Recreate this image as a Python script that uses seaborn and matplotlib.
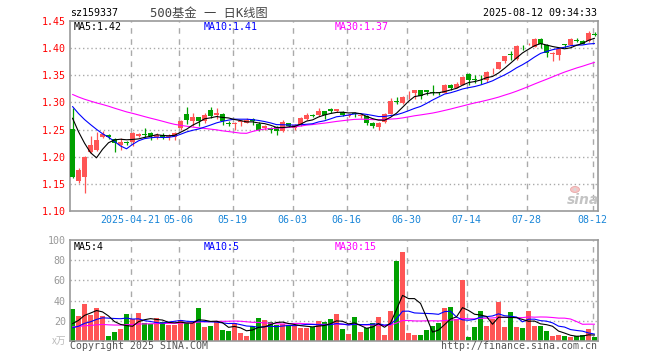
import numpy as np
import pandas as pd
import matplotlib
matplotlib.use("Agg")
import matplotlib.pyplot as plt
from matplotlib.patches import Ellipse
import seaborn as sns

sns.set_style("white")
plt.rcParams["font.family"] = ["DejaVu Sans Mono", "Noto Sans CJK SC"]

# ---------------- data ----------------
opens = [1.251, 1.155, 1.163, 1.209, 1.212, 1.237, 1.240, 1.232, 1.221, 1.226,
         1.228, 1.239, 1.242, 1.244, 1.236, 1.240, 1.236, 1.237, 1.253, 1.278,
         1.265, 1.273, 1.266, 1.286, 1.276, 1.279, 1.262, 1.261, 1.264, 1.263,
         1.269, 1.261, 1.252, 1.252, 1.254, 1.248, 1.262, 1.253, 1.259, 1.270,
         1.277, 1.276, 1.284, 1.287, 1.285, 1.283, 1.275, 1.281, 1.275, 1.275,
         1.262, 1.254, 1.264, 1.279, 1.303, 1.299, 1.317, 1.318, 1.322, 1.322,
         1.319, 1.319, 1.318, 1.333, 1.327, 1.333, 1.352, 1.343, 1.342, 1.342,
         1.357, 1.362, 1.376, 1.389, 1.380, 1.406, 1.407, 1.403, 1.417, 1.406,
         1.390, 1.388, 1.407, 1.405, 1.415, 1.414, 1.413, 1.426]
highs = [1.289, 1.179, 1.202, 1.239, 1.245, 1.248, 1.241, 1.234, 1.234, 1.229,
         1.246, 1.244, 1.253, 1.246, 1.244, 1.243, 1.241, 1.246, 1.268, 1.291,
         1.280, 1.274, 1.280, 1.292, 1.290, 1.281, 1.266, 1.264, 1.267, 1.271,
         1.271, 1.264, 1.258, 1.254, 1.256, 1.267, 1.263, 1.260, 1.273, 1.280,
         1.278, 1.290, 1.285, 1.289, 1.288, 1.284, 1.279, 1.282, 1.277, 1.277,
         1.264, 1.264, 1.280, 1.308, 1.310, 1.311, 1.321, 1.323, 1.323, 1.323,
         1.333, 1.320, 1.334, 1.334, 1.337, 1.348, 1.354, 1.350, 1.351, 1.357,
         1.363, 1.375, 1.386, 1.395, 1.405, 1.406, 1.409, 1.418, 1.418, 1.408,
         1.393, 1.399, 1.407, 1.418, 1.418, 1.415, 1.432, 1.429]
lows = [1.161, 1.151, 1.134, 1.207, 1.210, 1.234, 1.232, 1.209, 1.213, 1.222,
        1.219, 1.236, 1.236, 1.231, 1.233, 1.232, 1.230, 1.231, 1.249, 1.261,
        1.257, 1.257, 1.263, 1.272, 1.270, 1.258, 1.256, 1.250, 1.257, 1.262,
        1.259, 1.248, 1.249, 1.243, 1.240, 1.245, 1.255, 1.249, 1.257, 1.267,
        1.274, 1.275, 1.270, 1.280, 1.283, 1.275, 1.273, 1.273, 1.271, 1.258,
        1.253, 1.250, 1.263, 1.278, 1.297, 1.297, 1.306, 1.307, 1.307, 1.313,
        1.313, 1.313, 1.317, 1.322, 1.326, 1.332, 1.333, 1.335, 1.334, 1.338,
        1.353, 1.361, 1.372, 1.378, 1.379, 1.397, 1.405, 1.402, 1.401, 1.384,
        1.376, 1.378, 1.400, 1.404, 1.411, 1.407, 1.412, 1.423]
closes = [1.163, 1.175, 1.200, 1.222, 1.230, 1.241, 1.236, 1.226, 1.228, 1.225,
          1.244, 1.241, 1.240, 1.238, 1.240, 1.237, 1.238, 1.244, 1.266, 1.268,
          1.274, 1.265, 1.276, 1.275, 1.280, 1.266, 1.260, 1.262, 1.265, 1.268,
          1.266, 1.250, 1.256, 1.250, 1.248, 1.264, 1.257, 1.259, 1.271, 1.277,
          1.275, 1.284, 1.277, 1.285, 1.287, 1.277, 1.277, 1.279, 1.276, 1.263,
          1.256, 1.263, 1.278, 1.303, 1.301, 1.310, 1.318, 1.322, 1.312, 1.319,
          1.318, 1.318, 1.333, 1.327, 1.334, 1.347, 1.342, 1.342, 1.341, 1.356,
          1.358, 1.374, 1.385, 1.388, 1.404, 1.405, 1.408, 1.417, 1.408, 1.391,
          1.391, 1.398, 1.406, 1.417, 1.414, 1.408, 1.427, 1.425]
volumes = [31.5, 24.8, 36.5, 25.5, 32.5, 24.8, 4.7, 8.6, 11.6, 26.5,
           21.5, 27.5, 18.3, 16.9, 22.5, 18.5, 15.9, 15.9, 20.5, 18.3,
           17.9, 32.5, 13.6, 14.6, 19.3, 10.6, 9.6, 18.0, 7.6, 4.7,
           14.6, 22.5, 20.5, 18.5, 15.6, 16.5, 15.6, 15.6, 12.6, 12.6,
           13.6, 19.5, 18.5, 21.5, 26.5, 11.6, 6.6, 23.5, 8.6, 12.6,
           17.6, 23.5, 5.7, 29.5, 79.1, 88.0, 7.6, 5.7, 5.7, 10.6,
           14.6, 17.6, 32.4, 33.4, 21.5, 60.3, 3.7, 13.6, 29.5, 14.6,
           21.5, 38.4, 13.6, 28.5, 13.6, 12.6, 29.5, 14.6, 14.6, 9.6,
           4.7, 5.7, 4.7, 3.7, 4.7, 5.7, 11.6, 3.7]
# closes / volumes of the 29 sessions before the window (only feed the moving averages)
prior_close = [1.318, 1.322, 1.325, 1.330, 1.328, 1.332, 1.335, 1.330, 1.327, 1.325,
               1.329, 1.331, 1.326, 1.322, 1.324, 1.328, 1.325, 1.320, 1.318, 1.322,
               1.305, 1.310, 1.315, 1.318, 1.322, 1.300, 1.305, 1.310, 1.277]
prior_volume = [12, 15, 18, 14, 13, 16, 15, 12, 14, 17, 15, 13, 14, 16, 15, 13, 14, 15, 14, 14,
                9, 8, 10, 9, 9, 8, 12, 14, 20]

tick_idx = [10, 18, 27, 37, 46, 56, 66, 76, 87]
tick_labels = ["2025-04-21", "05-06", "05-19", "06-03", "06-16", "06-30", "07-14", "07-28", "08-12"]
price_ticks = [1.10, 1.15, 1.20, 1.25, 1.30, 1.35, 1.40, 1.45]
vol_ticks = [20, 40, 60, 80, 100]
vol_ma_labels = ["MA5:4", "MA10:5", "MA30:15"]

# ---------------- derived ----------------
n = len(closes)
x = np.arange(n)
o = np.array(opens); c = np.array(closes); h = np.array(highs); l = np.array(lows)
v = np.array(volumes)
RED, GREEN = "#ff5555", "#00a000"
up = c >= o
cols = np.where(up, RED, GREEN)

def ma(prior, vals, k):
    s = pd.Series(list(prior) + list(vals)).rolling(k).mean()
    return s.iloc[len(prior):].to_numpy()

pma = {k: ma(prior_close, closes, k) for k in (5, 10, 30)}
vma = {k: ma(prior_volume, volumes, k) for k in (5, 10, 30)}
ma_colors = {5: "black", 10: "#0000ff", 30: "#ff00ff"}

W, H = 660, 360
fig = plt.figure(figsize=(W / 100, H / 100), dpi=100)
ax1 = fig.add_axes([70 / W, 1 - 211 / H, 528 / W, 190 / H])
ax2 = fig.add_axes([70 / W, 1 - 341 / H, 528 / W, 101 / H])

XLIM = (-0.42, 87.58)
GRID = "#aaaaaa"
SPINE = "#999999"
grid_x = np.array(tick_idx) - 0.3

for ax in (ax1, ax2):
    ax.set_xlim(*XLIM)
    for gx in grid_x:
        ax.axvline(gx, color=GRID, lw=1, ls=(0, (4, 4)), zorder=0)
    for s in ax.spines.values():
        s.set_color(SPINE)
        s.set_linewidth(1.2)
        s.set_visible(True)

# ---------------- price panel ----------------
ax1.set_ylim(1.10, 1.45)
for yv in price_ticks[1:-1]:
    ax1.axhline(yv, color=GRID, lw=1, ls=(0, (1, 2)), zorder=0)
ax1.vlines(x, l, h, colors=cols, lw=0.9, zorder=2)
body = np.maximum(np.abs(c - o), 0.0012)
ax1.bar(x, body, bottom=np.minimum(o, c), width=0.75, color=cols, lw=0, zorder=3)
for k in (30, 10, 5):
    sns.lineplot(x=x, y=pma[k], ax=ax1, color=ma_colors[k], lw=0.8, legend=False, zorder=4)
ax1.set_yticks(price_ticks)
ax1.set_yticklabels([f"{t:.2f}" for t in price_ticks], color="#ff0000", fontsize=7.2)
ax1.set_xticks(grid_x)
ax1.set_xticklabels(tick_labels, color="#1a86d8", fontsize=7.2)
ax1.tick_params(length=0, pad=3)
ax1.set_xlabel(""); ax1.set_ylabel("")

# ---------------- volume panel ----------------
ax2.set_ylim(0, 100)
for yv in vol_ticks[:-1]:
    ax2.axhline(yv, color=GRID, lw=1, ls=(0, (1, 2)), zorder=0)
ax2.bar(x, v, width=0.82, color=cols, lw=0, zorder=2)
for k in (30, 10, 5):
    sns.lineplot(x=x, y=vma[k], ax=ax2, color=ma_colors[k], lw=0.8, legend=False, zorder=4)
ax2.set_yticks(vol_ticks)
ax2.set_yticklabels([str(t) for t in vol_ticks], color="#999999", fontsize=7.2)
ax2.set_xticks([])
ax2.tick_params(length=0, pad=3)
ax2.set_xlabel(""); ax2.set_ylabel("")

# ---------------- texts ----------------
def ftext(px, py, s, **kw):
    fig.text(px / W, 1 - py / H, s, **kw)

ftext(70, 13.5, "sz159337", fontsize=7.2, color="black", va="center", ha="left")
ftext(209, 13, "500基金 一 日K线图", fontsize=8.8, color="#444444", va="center", ha="center")
ftext(597, 13.5, "2025-08-12 09:34:33", fontsize=7.2, color="black", va="center", ha="right")

ftext(74, 26.5, f"MA5:{pma[5][-1]:.2f}", fontsize=7.2, color="black", va="center")
ftext(204, 26.5, f"MA10:{pma[10][-1]:.2f}", fontsize=7.2, color="#0000ff", va="center")
ftext(335, 26.5, f"MA30:{pma[30][-1]:.2f}", fontsize=7.2, color="#ff00ff", va="center")

for px, lab, k in zip((74, 204, 335), vol_ma_labels, (5, 10, 30)):
    ftext(px, 246.5, lab, fontsize=7.2, color=ma_colors[k], va="center")

ftext(66, 341, "x万", fontsize=7, color="#bbbbbb", va="center", ha="right",
      family=["Noto Sans CJK SC", "DejaVu Sans"], style="italic")
ftext(70, 346, "Copyright 2025 SINA.COM", fontsize=7.1, color="#555555", va="center", ha="left")
ftext(597, 346, "http://finance.sina.com.cn", fontsize=7.1, color="#555555", va="center", ha="right")

# sina watermark (eye logo + wordmark)
eye = Ellipse((575 / W, 1 - 189.5 / H), 9 / W, 6 / H, transform=fig.transFigure,
              facecolor="#f6c4c4", edgecolor="#e8a8a8", lw=0.6, zorder=5)
fig.patches.append(eye)
pupil = Ellipse((575 / W, 1 - 189.5 / H), 3 / W, 3 / H, transform=fig.transFigure,
                facecolor="#d8d8d8", edgecolor="none", zorder=6)
fig.patches.append(pupil)
ftext(583, 199.5, "sina", fontsize=10, color="#c4c4c4", va="center", ha="center",
      family="DejaVu Sans", weight="bold", style="italic")

fig.savefig("out.png", dpi=100)
